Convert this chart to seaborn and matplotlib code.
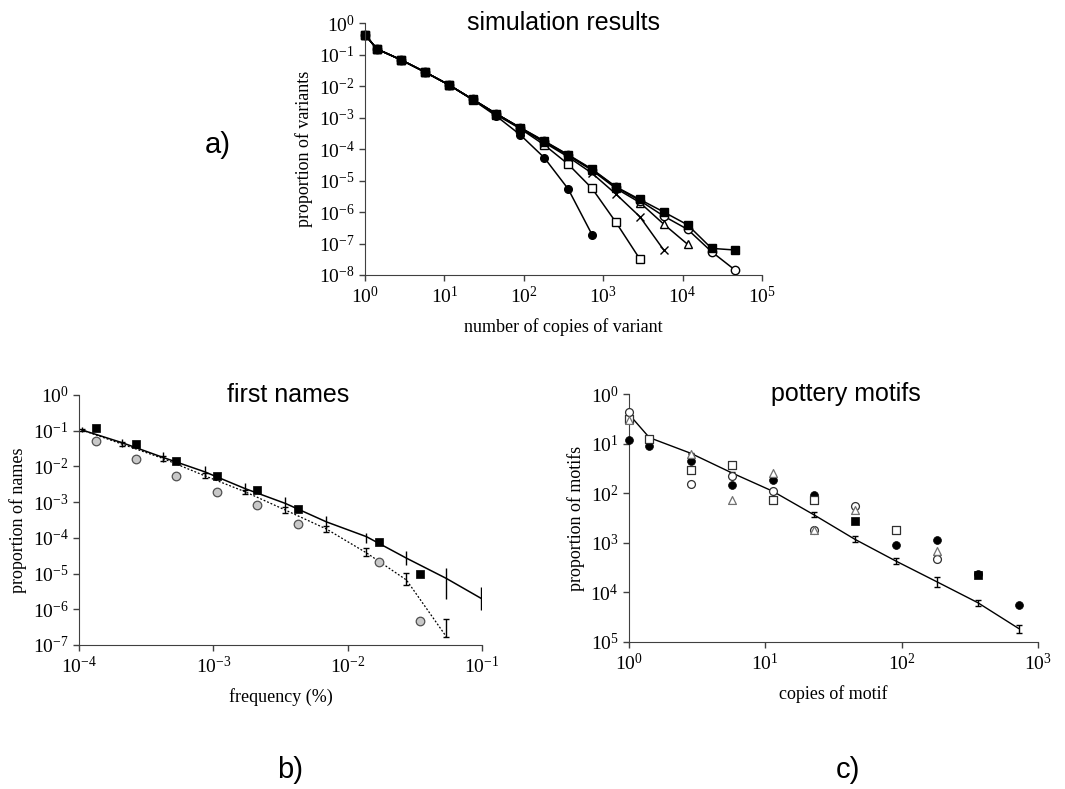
import numpy as np
import pandas as pd
import matplotlib
matplotlib.use('Agg')
import matplotlib.pyplot as plt
import seaborn as sns
from matplotlib.ticker import LogLocator, LogFormatterSciNotation, FixedLocator, FixedFormatter, NullLocator

sns.set_style('ticks')
plt.rcParams['font.family'] = ['Liberation Serif', 'DejaVu Serif']
plt.rcParams['axes.edgecolor'] = '#404040'
plt.rcParams['xtick.color'] = '#404040'
plt.rcParams['ytick.color'] = '#404040'
plt.rcParams['xtick.labelcolor'] = 'black'
plt.rcParams['ytick.labelcolor'] = 'black'
plt.rcParams['text.color'] = 'black'
plt.rcParams['axes.labelcolor'] = 'black'

# ---- a) simulation results ----
copies_sim = [1, 1.41, 2.83, 5.66, 11.3, 22.6, 45.3, 90.5, 181, 362, 724,
              1448, 2896, 5793, 11585, 23170, 46341]
sim_fsquare = [0.43, 0.15, 0.068, 0.028, 0.011, 0.0038, 0.0013, 4.8e-4, 1.8e-4,
               6.6e-5, 2.3e-5, 6.3e-6, 2.5e-6, 1.0e-6, 3.9e-7, 7.0e-8, 6.2e-8]
sim_ocircle = [0.43, 0.15, 0.068, 0.028, 0.011, 0.0038, 0.0013, 4.7e-4, 1.75e-4,
               6.4e-5, 2.2e-5, 6.2e-6, 2.3e-6, 7.4e-7, 2.8e-7, 5.5e-8, 1.4e-8]
sim_triangle = [0.43, 0.15, 0.068, 0.028, 0.011, 0.0038, 0.0013, 4.6e-4, 1.7e-4,
                6.2e-5, 2.1e-5, 5.6e-6, 2.0e-6, 4.1e-7, 9.4e-8]
sim_cross = [0.43, 0.15, 0.068, 0.028, 0.011, 0.0038, 0.0013, 4.6e-4, 1.6e-4,
             5.6e-5, 1.7e-5, 3.7e-6, 7.1e-7, 6.2e-8]
sim_osquare = [0.43, 0.15, 0.068, 0.028, 0.011, 0.0037, 0.0012, 4.4e-4, 1.35e-4,
               3.3e-5, 5.6e-6, 4.7e-7, 3.2e-8]
sim_fcircle = [0.43, 0.15, 0.068, 0.028, 0.011, 0.0037, 0.0011, 2.8e-4, 5.3e-5,
               5.4e-6, 1.9e-7]

# ---- b) first names ----
freq_model = [1.05e-4, 2.1e-4, 4.2e-4, 8.6e-4, 1.72e-3, 3.44e-3, 6.95e-3,
              1.38e-2, 2.74e-2, 5.43e-2, 9.9e-2]
model_solid = [0.105, 0.046, 0.018, 0.0071, 0.0024, 9.2e-4, 2.8e-4, 1.08e-4,
               2.7e-5, 7.3e-6, 2.0e-6]
solid_hi = [0.13, 0.0573, 0.0259, 0.01026, 0.00336, 0.00136, 4.08e-4, 1.39e-4,
            4.36e-5, 1.4e-5, 4.1e-6]
solid_lo = [0.09, 0.0357, 0.0136, 0.00494, 0.00169, 6.7e-4, 1.84e-4, 7.0e-5,
            1.73e-5, 2.0e-6, 9.5e-7]
freq_dotted = [1.05e-4, 2.1e-4, 4.2e-4, 8.6e-4, 1.72e-3, 3.44e-3, 6.95e-3,
               1.38e-2, 2.74e-2, 5.43e-2]
model_dotted = [0.105, 0.042, 0.0168, 0.0055, 0.00196, 6.0e-4, 1.77e-4, 3.8e-5,
                6.6e-6, 1.7e-7]
dotted_hi = [0.11, 0.049, 0.0195, 0.0064, 0.00218, 7.1e-4, 2.14e-4, 5.07e-5,
             1.01e-5, 5.2e-7]
dotted_lo = [0.1, 0.037, 0.0145, 0.0046, 0.00169, 5.06e-4, 1.45e-4, 3.09e-5,
             4.76e-6, 1.7e-7]
freq_data = [1.33e-4, 2.65e-4, 5.3e-4, 1.07e-3, 2.13e-3, 4.3e-3, 1.71e-2, 3.44e-2]
names_square = [0.116, 0.0415, 0.0145, 0.0055, 0.0022, 6.4e-4, 7.5e-5, 1.0e-5]
names_circle = [0.0515, 0.0161, 0.0055, 0.00196, 8.3e-4, 2.4e-4, 2.15e-5, 4.8e-7]

# ---- c) pottery motifs ----
copies_motif = [1, 1.41, 2.83, 5.66, 11.3, 22.6, 45.3, 90.5, 181, 362, 724]
motif_model = [0.39, 0.132, 0.064, 0.0258, 0.011, 0.0037, 0.00118, 4.3e-4,
               1.64e-4, 6.2e-5, 1.86e-5]
motif_hi = [0.4, 0.135, 0.066, 0.027, 0.0116, 0.00412, 0.00134, 5.04e-4,
            2.08e-4, 7.0e-5, 2.18e-5]
motif_lo = [0.38, 0.129, 0.062, 0.0246, 0.0104, 0.00331, 0.00105, 3.7e-4,
            1.26e-4, 5.28e-5, 1.55e-5]
ocircle_x = [1, 2.83, 5.66, 11.3, 22.6, 45.3, 181]
ocircle_y = [0.425, 0.015, 0.0221, 0.0113, 0.00184, 0.0054, 4.7e-4]
osquare_x = [1, 1.41, 2.83, 5.66, 11.3, 22.6, 90.5]
osquare_y = [0.32, 0.122, 0.030, 0.0364, 0.0074, 0.0072, 0.00184]
triangle_x = [1, 2.83, 5.66, 11.3, 22.6, 45.3, 181]
triangle_y = [0.30, 0.061, 0.0072, 0.0258, 0.00184, 0.0045, 6.7e-4]
fcircle_x = [1, 1.41, 2.83, 5.66, 11.3, 22.6, 90.5, 181, 362, 724]
fcircle_y = [0.117, 0.0897, 0.0446, 0.0145, 0.0184, 0.0092, 9.1e-4, 0.00115,
             2.3e-4, 5.7e-5]
fsquare_x = [45.3, 362]
fsquare_y = [0.0027, 2.2e-4]
motif_ylabels = ['10^{0}', '10^{1}', '10^{2}', '10^{3}', '10^{4}', '10^{5}']

fig = plt.figure(figsize=(10.65, 7.89), dpi=100)
W, H = 1065, 789


def make_ax(l, r, t, b):
    return fig.add_axes([l / W, 1 - b / H, (r - l) / W, (b - t) / H])


def style_log(ax):
    ax.set_xscale('log')
    ax.set_yscale('log')
    ax.xaxis.set_major_locator(LogLocator(base=10, numticks=20))
    ax.yaxis.set_major_locator(LogLocator(base=10, numticks=20))
    ax.xaxis.set_major_formatter(LogFormatterSciNotation())
    ax.yaxis.set_major_formatter(LogFormatterSciNotation())
    ax.xaxis.set_minor_locator(NullLocator())
    ax.yaxis.set_minor_locator(NullLocator())
    ax.tick_params(labelsize=14, length=4, width=1, direction='out')
    sns.despine(ax=ax)
    ax.grid(False)


# a)
ax1 = make_ax(365, 762, 23, 275)
style_log(ax1)
series_a = [
    (sim_fcircle, 'o', 'black', 5.5),
    (sim_osquare, 's', 'white', 5.5),
    (sim_cross, 'x', 'black', 6),
    (sim_triangle, '^', 'white', 6),
    (sim_ocircle, 'o', 'white', 6),
    (sim_fsquare, 's', 'black', 6),
]
for vals, mk, fc, ms in series_a:
    sns.lineplot(x=copies_sim[:len(vals)], y=vals, ax=ax1, color='black',
                 linewidth=1.1, marker=mk, markersize=ms, markerfacecolor=fc,
                 markeredgecolor='black', markeredgewidth=1, clip_on=False)
ax1.set_xlim(1, 1e5)
ax1.set_ylim(1e-8, 1)
ax1.set_xlabel('number of copies of variant', fontsize=13, labelpad=8)
ax1.set_ylabel('proportion of variants', fontsize=13, labelpad=4)
ax1.text(0.5, 1.0, 'simulation results', transform=ax1.transAxes, ha='center',
         va='center', fontsize=18, family=['Liberation Sans', 'DejaVu Sans'])

# b)
ax2 = make_ax(79, 482, 395, 645)
style_log(ax2)
sns.lineplot(x=freq_model, y=model_solid, ax=ax2, color='black', linewidth=1.1)
ax2.vlines(freq_model, solid_lo, solid_hi, color='black', linewidth=1)
sns.lineplot(x=freq_dotted, y=model_dotted, ax=ax2, color='black', linewidth=0.9,
             linestyle=(0, (1.5, 1.5)))
ax2.errorbar(freq_dotted, model_dotted,
             yerr=[np.array(model_dotted) - np.array(dotted_lo),
                   np.array(dotted_hi) - np.array(model_dotted)],
             fmt='none', ecolor='black', elinewidth=1, capsize=2, capthick=1)
sns.scatterplot(x=freq_data, y=names_circle, ax=ax2, marker='o', s=38,
                color='#c8c8c8', edgecolor='#505050', linewidth=0.9, zorder=4)
sns.scatterplot(x=freq_data, y=names_square, ax=ax2, marker='s', s=38,
                color='black', edgecolor='black', linewidth=0.5, zorder=4)
ax2.set_xlim(1e-4, 1e-1)
ax2.set_ylim(1e-7, 1)
ax2.set_xlabel('frequency (%)', fontsize=13, labelpad=8)
ax2.set_ylabel('proportion of names', fontsize=13, labelpad=4)
ax2.text(0.52, 1.0, 'first names', transform=ax2.transAxes, ha='center',
         va='center', fontsize=18, family=['Liberation Sans', 'DejaVu Sans'])

# c)
ax3 = make_ax(629, 1038, 394, 642)
style_log(ax3)
sns.lineplot(x=copies_motif, y=motif_model, ax=ax3, color='black', linewidth=1)
ax3.errorbar(copies_motif, motif_model,
             yerr=[np.array(motif_model) - np.array(motif_lo),
                   np.array(motif_hi) - np.array(motif_model)],
             fmt='none', ecolor='black', elinewidth=1, capsize=2, capthick=1)
mk_kw = dict(ax=ax3, s=32, clip_on=False)
sns.scatterplot(x=fcircle_x, y=fcircle_y, marker='o', color='black',
                edgecolor='black', linewidth=0.5, zorder=4, **mk_kw)
sns.scatterplot(x=fsquare_x, y=fsquare_y, marker='s', color='black',
                edgecolor='black', linewidth=0.5, zorder=4, **mk_kw)
sns.scatterplot(x=osquare_x, y=osquare_y, marker='s', color='white',
                edgecolor='#303030', linewidth=0.9, zorder=5, **mk_kw)
sns.scatterplot(x=ocircle_x, y=ocircle_y, marker='o', color='white',
                edgecolor='#303030', linewidth=0.9, zorder=5, **mk_kw)
sns.scatterplot(x=triangle_x, y=triangle_y, marker='^', color='white',
                edgecolor='#707070', linewidth=0.9, zorder=5, **mk_kw)
ax3.set_xlim(1, 1e3)
ax3.set_ylim(1e-5, 1)
ax3.yaxis.set_major_locator(FixedLocator([1, 1e-1, 1e-2, 1e-3, 1e-4, 1e-5]))
ax3.yaxis.set_major_formatter(FixedFormatter(['$\\mathdefault{%s}$' % s for s in motif_ylabels]))
ax3.set_xlabel('copies of motif', fontsize=13, labelpad=8)
ax3.set_ylabel('proportion of motifs', fontsize=13, labelpad=4)
ax3.text(0.53, 1.0, 'pottery motifs', transform=ax3.transAxes, ha='center',
         va='center', fontsize=18, family=['Liberation Sans', 'DejaVu Sans'])

# panel letters
for lbl, px, py in [('a)', 218, 145), ('b)', 290, 770), ('c)', 848, 770)]:
    fig.text(px / W, 1 - py / H, lbl, ha='center', va='center', fontsize=21,
             family=['Liberation Sans', 'DejaVu Sans'])

fig.savefig('out.png', dpi=100)
